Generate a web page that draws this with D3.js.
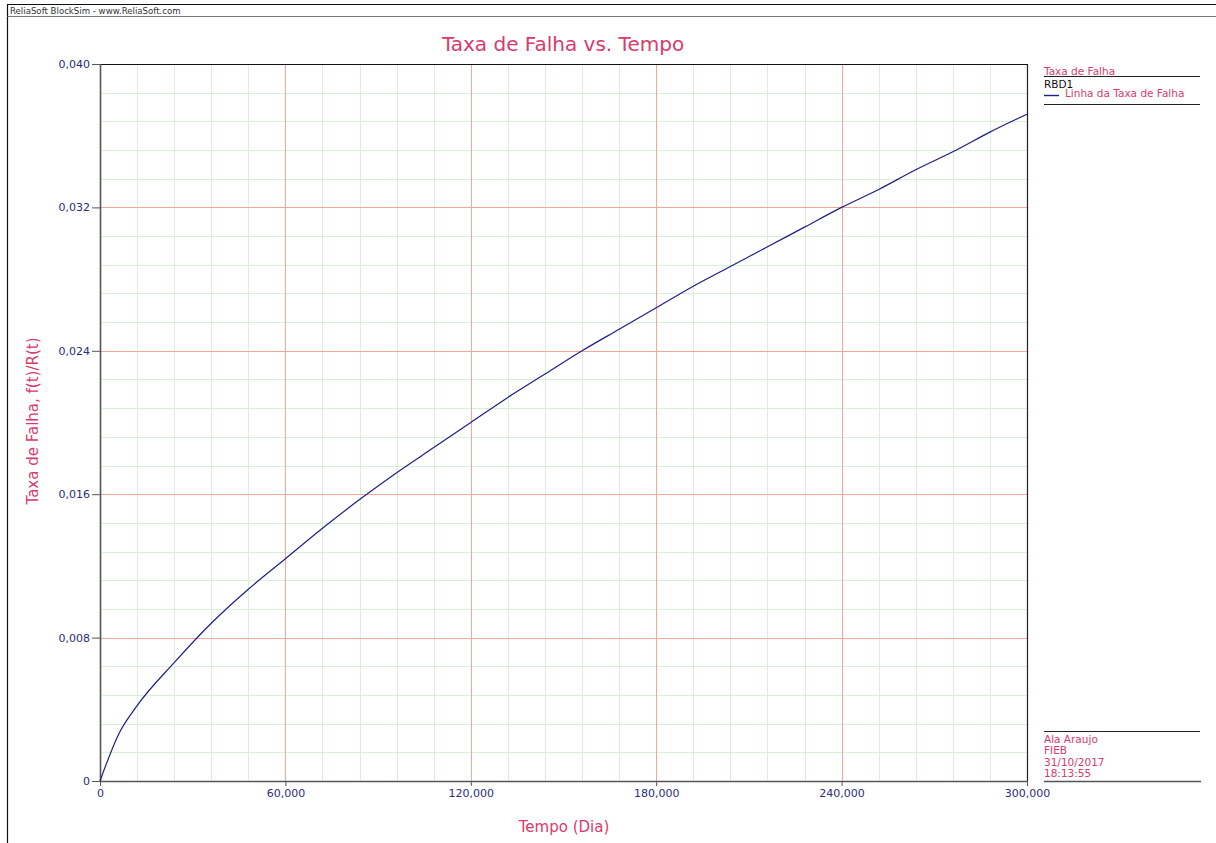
<!DOCTYPE html>
<html>
<head>
<meta charset="utf-8">
<script src="https://cdn.jsdelivr.net/npm/d3@7"></script>
<style>
  html, body { margin: 0; padding: 0; background: #fff; }
  svg { display: block; }
  text { font-family: "DejaVu Sans", Verdana, sans-serif; }
</style>
</head>
<body>
<svg id="chart" width="1216" height="843"></svg>
<script>
// Failure-rate curve sampled along the time axis (days)
const tempo = [0, 6000, 12000, 24000, 36000, 48000, 60000, 72000, 84000, 96000,
  108000, 120000, 132000, 144000, 156000, 168000, 180000, 192000, 204000, 216000,
  228000, 240000, 252000, 264000, 276000, 288000, 300000];
const taxaFalha = [0, 0.0026, 0.0042, 0.0066, 0.0088, 0.0107, 0.0124, 0.0141, 0.0157, 0.0172,
  0.0186, 0.0200, 0.0214, 0.0227, 0.0240, 0.0252, 0.0264, 0.0276, 0.0287, 0.0298,
  0.0309, 0.0320, 0.0330, 0.0341, 0.0351, 0.0362, 0.0372];

const xTicks = [0, 60000, 120000, 180000, 240000, 300000];
const yTicks = [0, 0.008, 0.016, 0.024, 0.032, 0.040];
const xMinorStep = 12000;
const yMinorStep = 0.0016;

const titulo = "Taxa de Falha vs. Tempo";
const eixoX = "Tempo (Dia)";
const eixoY = "Taxa de Falha,  f(t)/R(t)";
const cabecalho = "ReliaSoft BlockSim - www.ReliaSoft.com";
const legendaTitulo = "Taxa de Falha";
const legendaGrupo = "RBD1";
const legendaSerie = "Linha da Taxa de Falha";
const rodape = ["Ala Araujo", "FIEB", "31/10/2017", "18:13:55"];

const CRIMSON = "#d93a6b";
const NAVY = "#2c2c78";
const LINE = "#1e1e85";

const svg = d3.select("#chart");
const pL = 100, pR = 1027, pT = 64, pB = 781;

const x = d3.scaleLinear().domain([0, 300000]).range([pL, pR]);
const y = d3.scaleLinear().domain([0, 0.04]).range([pB, pT]);

// outer page frame and header
svg.append("line").attr("x1", 7.5).attr("x2", 1216).attr("y1", 4.5).attr("y2", 4.5)
  .attr("stroke", "#111").attr("stroke-width", 1.2);
svg.append("line").attr("x1", 7.5).attr("x2", 7.5).attr("y1", 4).attr("y2", 843)
  .attr("stroke", "#111").attr("stroke-width", 1.2);
svg.append("text").attr("x", 10).attr("y", 14).attr("font-size", 8.6)
  .attr("fill", "#333").text(cabecalho);
svg.append("line").attr("x1", 7.5).attr("x2", 1216).attr("y1", 16.5).attr("y2", 16.5)
  .attr("stroke", "#777").attr("stroke-width", 1);

// grid
const nMinorX = Math.round(300000 / xMinorStep);
const nMinorY = Math.round(0.04 / yMinorStep);
const minorX = d3.range(1, nMinorX).filter(i => i % 5 !== 0).map(i => i * xMinorStep);
const minorY = d3.range(1, nMinorY).filter(i => i % 5 !== 0).map(i => i * yMinorStep);
const grid = svg.append("g");
grid.selectAll(".mx").data(minorX).join("line")
  .attr("x1", d => Math.round(x(d)) + 0.5).attr("x2", d => Math.round(x(d)) + 0.5)
  .attr("y1", pT).attr("y2", pB).attr("stroke", "#d6f1d6").attr("stroke-width", 1);
grid.selectAll(".my").data(minorY).join("line")
  .attr("y1", d => Math.round(y(d)) + 0.5).attr("y2", d => Math.round(y(d)) + 0.5)
  .attr("x1", pL).attr("x2", pR).attr("stroke", "#d6f1d6").attr("stroke-width", 1);
grid.selectAll(".Mx").data(xTicks.slice(1, -1)).join("line")
  .attr("x1", d => Math.round(x(d)) + 0.5).attr("x2", d => Math.round(x(d)) + 0.5)
  .attr("y1", pT).attr("y2", pB).attr("stroke", "#f0a898").attr("stroke-width", 1);
grid.selectAll(".My").data(yTicks.slice(1, -1)).join("line")
  .attr("y1", d => Math.round(y(d)) + 0.5).attr("y2", d => Math.round(y(d)) + 0.5)
  .attr("x1", pL).attr("x2", pR).attr("stroke", "#f0a898").attr("stroke-width", 1);

// axes
const fmtY = d => d === 0 ? "0" : d.toFixed(3).replace(".", ",");
const fmtX = d => d === 0 ? "0" : d3.format(",")(d);

const yAxis = svg.append("g").attr("transform", `translate(${pL},0)`)
  .call(d3.axisLeft(y).tickValues(yTicks).tickFormat(fmtY).tickSize(8).tickSizeOuter(0).tickPadding(2));
yAxis.select(".domain").remove();
yAxis.selectAll(".tick line").attr("stroke", "#555");
yAxis.selectAll(".tick text").attr("fill", NAVY).attr("font-size", 11)
  .attr("font-family", "DejaVu Sans, sans-serif");

const xAxis = svg.append("g").attr("transform", `translate(0,${pB})`)
  .call(d3.axisBottom(x).tickValues(xTicks).tickFormat(fmtX).tickSize(5).tickSizeOuter(0).tickPadding(3));
xAxis.select(".domain").remove();
xAxis.selectAll(".tick line").attr("stroke", "#555");
xAxis.selectAll(".tick text").attr("fill", NAVY).attr("font-size", 11)
  .attr("font-family", "DejaVu Sans, sans-serif");

// plot frame
svg.append("line").attr("x1", pL).attr("x2", pR + 0.5).attr("y1", pT + 0.5).attr("y2", pT + 0.5)
  .attr("stroke", "#111").attr("stroke-width", 1.2);
svg.append("line").attr("x1", pR + 0.5).attr("x2", pR + 0.5).attr("y1", pT).attr("y2", pB)
  .attr("stroke", "#222").attr("stroke-width", 1.2);
svg.append("line").attr("x1", pL + 0.5).attr("x2", pL + 0.5).attr("y1", pT).attr("y2", pB + 0.5)
  .attr("stroke", "#555").attr("stroke-width", 1.6);
svg.append("line").attr("x1", pL).attr("x2", pR + 1).attr("y1", pB + 0.5).attr("y2", pB + 0.5)
  .attr("stroke", "#555").attr("stroke-width", 1.6);

// failure-rate line
const linha = d3.line().x((d, i) => x(tempo[i])).y(d => y(d)).curve(d3.curveMonotoneX);
svg.append("path").datum(taxaFalha).attr("d", linha)
  .attr("fill", "none").attr("stroke", LINE).attr("stroke-width", 1.2);

// titles
svg.append("text").attr("x", 563).attr("y", 51).attr("text-anchor", "middle")
  .attr("font-size", 20).attr("fill", CRIMSON).text(titulo);
svg.append("text").attr("x", 564).attr("y", 832).attr("text-anchor", "middle")
  .attr("font-size", 15).attr("fill", CRIMSON).text(eixoX);
svg.append("text").attr("transform", "translate(38,421) rotate(-90)").attr("text-anchor", "middle")
  .attr("font-size", 15).attr("fill", CRIMSON).text(eixoY);

// legend
const lx = 1044, lx2 = 1200;
svg.append("text").attr("x", lx).attr("y", 74.5).attr("font-size", 10.5)
  .attr("fill", CRIMSON).text(legendaTitulo);
svg.append("line").attr("x1", lx).attr("x2", lx2).attr("y1", 76.5).attr("y2", 76.5)
  .attr("stroke", "#222").attr("stroke-width", 1);
svg.append("text").attr("x", lx).attr("y", 88).attr("font-size", 10.5)
  .attr("fill", "#111").text(legendaGrupo);
svg.append("line").attr("x1", lx).attr("x2", 1059).attr("y1", 95.5).attr("y2", 95.5)
  .attr("stroke", LINE).attr("stroke-width", 1.4);
svg.append("text").attr("x", 1065).attr("y", 97).attr("font-size", 10.5)
  .attr("fill", CRIMSON).text(legendaSerie);
svg.append("line").attr("x1", lx).attr("x2", lx2).attr("y1", 104.5).attr("y2", 104.5)
  .attr("stroke", "#222").attr("stroke-width", 1);

// signature block
svg.append("line").attr("x1", lx).attr("x2", lx2).attr("y1", 731.5).attr("y2", 731.5)
  .attr("stroke", "#222").attr("stroke-width", 1);
svg.selectAll(".rod").data(rodape).join("text")
  .attr("x", lx).attr("y", (d, i) => 743 + i * 11.3)
  .attr("font-size", 10.5).attr("fill", CRIMSON).text(d => d);
svg.append("line").attr("x1", lx).attr("x2", 1201).attr("y1", 781.5).attr("y2", 781.5)
  .attr("stroke", "#555").attr("stroke-width", 1.4);
</script>
</body>
</html>
